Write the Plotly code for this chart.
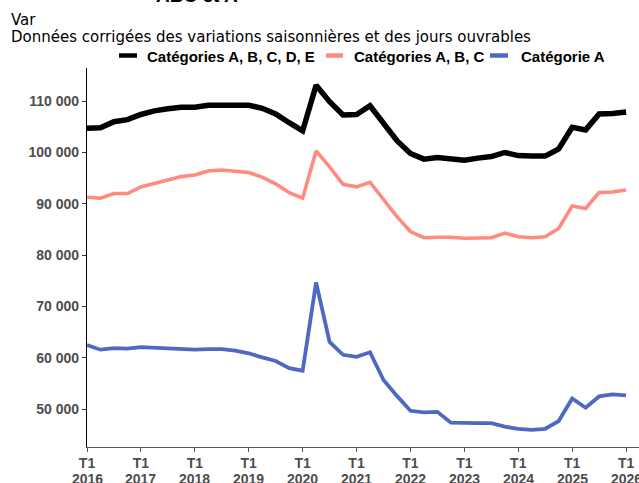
import plotly.graph_objects as go

years = list(range(2016, 2027))
quarters = [f"T{q} {y}" for y in years for q in (1, 2, 3, 4)][:41]
tick_quarters = [f"T1 {y}" for y in years]
tick_labels = ["T1"] * len(years)
year_labels = [str(y) for y in years]

cat_abcde = [104700, 104800, 106000, 106400, 107400, 108100, 108500, 108800, 108800, 109200,
             109200, 109200, 109200, 108600, 107500, 105800, 104200, 113100, 109900, 107300,
             107400, 109100, 105700, 102300, 99800, 98700, 99000, 98700, 98500, 98900,
             99200, 100000, 99400, 99300, 99300, 100700, 104900, 104400, 107500, 107600, 107900]
cat_abc = [91270, 91100, 92000, 92000, 93300, 94000, 94600, 95300, 95600, 96400,
           96600, 96400, 96100, 95200, 93900, 92200, 91100, 100300, 97200, 93800,
           93300, 94200, 90900, 87500, 84600, 83400, 83500, 83500, 83300, 83300,
           83400, 84300, 83600, 83400, 83600, 85200, 89600, 89100, 92200, 92300, 92700]
cat_a = [62500, 61600, 61900, 61800, 62100, 62000, 61900, 61800, 61600, 61700,
         61700, 61400, 60900, 60100, 59400, 58000, 57500, 74700, 63100, 60600,
         60200, 61100, 55700, 52600, 49700, 49400, 49500, 47400, 47300, 47300,
         47300, 46600, 46200, 46000, 46200, 47700, 52100, 50300, 52500, 52900, 52700]

y_ticks = [50000, 60000, 70000, 80000, 90000, 100000, 110000]
y_tick_labels = ["50 000", "60 000", "70 000", "80 000", "90 000", "100 000", "110 000"]

series = [
    ("Catégories A, B, C, D, E", cat_abcde, "#000000", 5.5),
    ("Catégories A, B, C", cat_abc, "#FF8A7E", 3.6),
    ("Catégorie A", cat_a, "#4F69C2", 3.8),
]

fig = go.Figure()
for name, vals, color, w in series:
    fig.add_trace(go.Scatter(x=quarters, y=vals, mode="lines", name=name,
                             line=dict(color=color, width=w), showlegend=False))

W, H = 639, 483
ml, mr, mt, mb = 87, 0, 68, 36
pw, ph = W - ml - mr, H - mt - mb

def px(x):
    return (x - ml) / pw

def py(y):
    return (H - mb - y) / ph

tick_font = dict(family="Liberation Sans", size=14, color="#4D4D4D", weight="bold")

annotations = [
    dict(text="<b>ABC et A</b>", x=px(197), y=py(-4.5), xanchor="center", yanchor="middle",
         font=dict(family="Liberation Sans", size=19, color="#000")),
    dict(text="Var", x=px(9), y=py(20), xanchor="left", yanchor="middle",
         font=dict(family="DejaVu Sans", size=15, color="#000")),
    dict(text="Données corrigées des variations saisonnières et des jours ouvrables",
         x=px(9), y=py(37), xanchor="left", yanchor="middle",
         font=dict(family="DejaVu Sans", size=15, color="#000")),
]
shapes = []
legend_items = [(119, 137, 145, series[0]), (326, 343, 352, series[1]), (490, 508, 519, series[2])]
for x0, x1, tx, (name, _, color, _) in legend_items:
    shapes.append(dict(type="line", xref="paper", yref="paper", x0=px(x0), x1=px(x1),
                       y0=py(55.5), y1=py(55.5), line=dict(color=color, width=4.5)))
    annotations.append(dict(text=f"<b>{name}</b>", x=px(tx), y=py(56), xanchor="left",
                            yanchor="middle",
                            font=dict(family="Liberation Sans", size=15, color="#000")))
for a in annotations:
    a.update(xref="paper", yref="paper", showarrow=False)
for q, lab in zip(tick_quarters, year_labels):
    annotations.append(dict(text=lab, x=q, xref="x", y=py(479), yref="paper",
                            xanchor="center", yanchor="middle", showarrow=False,
                            font=tick_font))

fig.update_layout(
    width=W, height=H,
    margin=dict(l=ml, r=mr, t=mt, b=mb, autoexpand=False),
    plot_bgcolor="white", paper_bgcolor="white",
    annotations=annotations, shapes=shapes,
    xaxis=dict(type="category", range=[0, 40.96], tickmode="array",
               tickvals=tick_quarters, ticktext=tick_labels, automargin=False,
               ticklabelstandoff=-1,
               showgrid=False, zeroline=False, showline=True, linecolor="#555555", linewidth=1.3,
               ticks="outside", ticklen=4, tickcolor="#555555", tickfont=tick_font),
    yaxis=dict(range=[42650, 116450], tickmode="array", tickvals=y_ticks, ticktext=y_tick_labels,
               automargin=False,
               showgrid=False, zeroline=False, showline=True, linecolor="#000000", linewidth=1.3,
               ticks="outside", ticklen=4, tickcolor="#333333", tickfont=tick_font),
)

fig.write_html("out.html", config={"displayModeBar": False},
               post_script="document.body.style.margin='0';document.body.style.overflow='hidden';")
